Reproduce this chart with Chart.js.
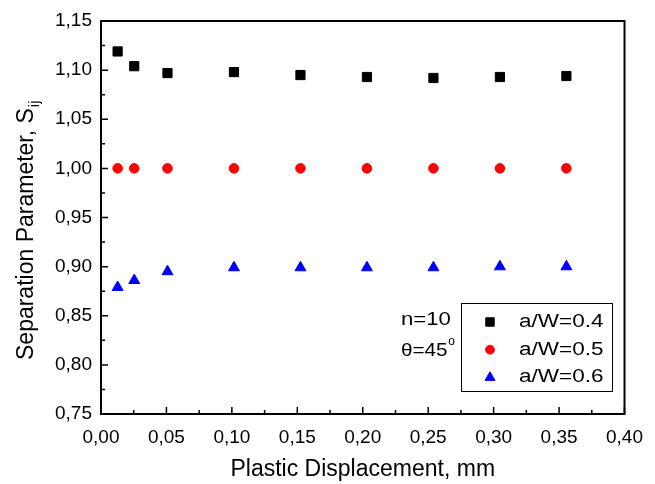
<!DOCTYPE html>
<html><head><meta charset="utf-8">
<script src="https://cdn.jsdelivr.net/npm/chart.js@4.4.0/dist/chart.umd.min.js"></script>
<style>html,body{margin:0;padding:0;background:#fff;}#wrap{width:655px;height:484px;}</style>
</head><body><div id="wrap"><canvas id="c" width="655" height="484"></canvas></div>
<script>
const displacement = [0.0127, 0.0254, 0.0508, 0.1016, 0.1524, 0.2032, 0.254, 0.3048, 0.3556];
const sAW04 = [1.119, 1.104, 1.097, 1.098, 1.095, 1.093, 1.092, 1.093, 1.094];
const sAW05 = [1.000, 1.000, 1.000, 1.000, 1.000, 1.000, 1.000, 1.000, 1.000];
const sAW06 = [0.879, 0.886, 0.895, 0.899, 0.899, 0.899, 0.899, 0.900, 0.900];
const seriesLabels = ['a/W=0.4', 'a/W=0.5', 'a/W=0.6'];
const xTicks = [0.00, 0.05, 0.10, 0.15, 0.20, 0.25, 0.30, 0.35, 0.40];
const yTicks = [0.75, 0.80, 0.85, 0.90, 0.95, 1.00, 1.05, 1.10, 1.15];
const xTitle = 'Plastic Displacement, mm';
const yTitle = 'Separation Parameter, S';
const yTitleSub = 'ij';
const noteLines = ['n=10', 'θ=45'];

const FONT = '"Liberation Sans", Arial, Helvetica, sans-serif';
const fmt = v => Number(v).toFixed(2).replace('.', ',');
const pts = arr => displacement.map((x, i) => ({x: x, y: arr[i]}));

function wideText(ctx, text, x, y, size, sx) {
  ctx.save();
  ctx.translate(x, y);
  ctx.scale(sx, 1);
  ctx.font = size + 'px ' + FONT;
  ctx.textBaseline = 'middle';
  ctx.textAlign = 'left';
  ctx.fillStyle = '#000';
  ctx.fillText(text, 0, 0);
  const w = ctx.measureText(text).width * sx;
  ctx.restore();
  return w;
}

const decor = {
  id: 'decor',
  afterDraw(chart) {
    const ctx = chart.ctx;
    const a = chart.chartArea;
    const xs = chart.scales.x, ys = chart.scales.y;
    ctx.save();
    // frame
    ctx.strokeStyle = '#000';
    ctx.lineWidth = 2;
    ctx.strokeRect(a.left, a.top, a.right - a.left, a.bottom - a.top);
    // ticks (inward)
    ctx.lineWidth = 1.5;
    ctx.beginPath();
    xs.ticks.forEach((t, i) => {
      const p = xs.getPixelForValue(t.value);
      ctx.moveTo(p, a.bottom); ctx.lineTo(p, a.bottom - 7);
      if (i < xs.ticks.length - 1) {
        const m = xs.getPixelForValue((t.value + xs.ticks[i + 1].value) / 2);
        ctx.moveTo(m, a.bottom); ctx.lineTo(m, a.bottom - 4);
      }
    });
    ys.ticks.forEach((t, i) => {
      const p = ys.getPixelForValue(t.value);
      ctx.moveTo(a.left, p); ctx.lineTo(a.left + 7, p);
      if (i < ys.ticks.length - 1) {
        const m = ys.getPixelForValue((t.value + ys.ticks[i + 1].value) / 2);
        ctx.moveTo(a.left, m); ctx.lineTo(a.left + 4, m);
      }
    });
    ctx.stroke();

    // y title with subscript
    ctx.save();
    ctx.translate(33, 360);
    ctx.rotate(-Math.PI / 2);
    ctx.fillStyle = '#000';
    ctx.textBaseline = 'alphabetic';
    ctx.textAlign = 'left';
    ctx.font = '23px ' + FONT;
    ctx.fillText(yTitle, 0, 0);
    const w = ctx.measureText(yTitle).width;
    ctx.font = '15px ' + FONT;
    ctx.fillText(yTitleSub, w + 1, 6);
    ctx.restore();

    // legend box
    ctx.lineWidth = 1;
    ctx.strokeStyle = '#000';
    ctx.strokeRect(461.5, 303.5, 151, 88);
    const rows = [322, 349.7, 377.5];
    chart.data.datasets.forEach((ds, i) => {
      const opts = {
        pointStyle: ds.pointStyle,
        radius: ds.pointRadius * 0.92,
        borderWidth: ds.borderWidth,
        rotation: 0
      };
      ctx.fillStyle = ds.backgroundColor;
      ctx.strokeStyle = ds.borderColor;
      ctx.lineWidth = ds.borderWidth;
      Chart.helpers.drawPoint(ctx, opts, 490, rows[i]);
      wideText(ctx, ds.label, 519, rows[i], 18, 1.25);
    });

    // annotation
    wideText(ctx, noteLines[0], 401, 320.5, 18, 1.23);
    const tw = wideText(ctx, noteLines[1], 401, 351, 18, 1.15);
    ctx.font = '12px ' + FONT;
    ctx.fillStyle = '#000';
    ctx.textBaseline = 'middle';
    ctx.fillText('o', 401 + tw + 0.5, 342);
    ctx.restore();
  }
};

new Chart(document.getElementById('c'), {
  type: 'scatter',
  data: {
    datasets: [
      {label: seriesLabels[0], data: pts(sAW04), pointStyle: 'rect', pointRadius: 6.5,
       backgroundColor: '#000000', borderColor: '#000000', borderWidth: 1},
      {label: seriesLabels[1], data: pts(sAW05), pointStyle: 'circle', pointRadius: 4.8,
       backgroundColor: '#ff0000', borderColor: '#ff0000', borderWidth: 1},
      {label: seriesLabels[2], data: pts(sAW06), pointStyle: 'triangle', pointRadius: 6.3,
       backgroundColor: '#0000ff', borderColor: '#0000ff', borderWidth: 1}
    ]
  },
  options: {
    responsive: false,
    animation: false,
    devicePixelRatio: 1,
    layout: {padding: {top: 21, right: 21, left: 0, bottom: 0}},
    plugins: {legend: {display: false}, tooltip: {enabled: false}},
    scales: {
      x: {
        type: 'linear', min: 0, max: 0.4,
        afterBuildTicks: s => { s.ticks = xTicks.map(v => ({value: v})); },
        afterFit: s => { s.height = 70; },
        grid: {display: false, drawTicks: false},
        border: {display: false},
        ticks: {color: '#000', font: {family: FONT, size: 19}, padding: 12,
                maxRotation: 0, autoSkip: false, callback: v => fmt(v)},
        title: {display: true, text: xTitle, color: '#000',
                font: {family: FONT, size: 23}, padding: {top: 0, bottom: 1}}
      },
      y: {
        type: 'linear', min: 0.75, max: 1.15,
        afterBuildTicks: s => { s.ticks = yTicks.map(v => ({value: v})); },
        afterFit: s => { s.width = 101; },
        grid: {display: false, drawTicks: false},
        border: {display: false},
        ticks: {color: '#000', font: {family: FONT, size: 19}, padding: 9,
                autoSkip: false, callback: v => fmt(v)}
      }
    }
  },
  plugins: [decor]
});
</script>
</body></html>
